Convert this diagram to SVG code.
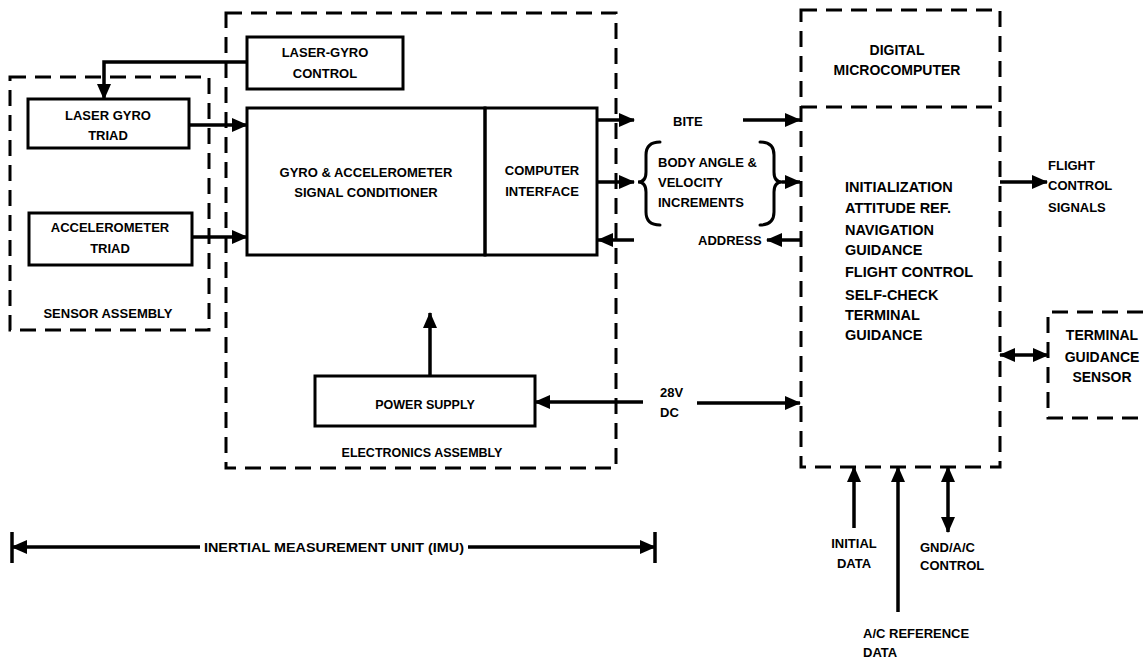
<svg xmlns="http://www.w3.org/2000/svg" width="1147" height="659" viewBox="0 0 1147 659">
  <style>
    .box { fill: none; stroke: #000; stroke-width: 3; }
    .dash { fill: none; stroke: #000; stroke-width: 3; stroke-dasharray: 16 9; }
    .wire { fill: none; stroke: #000; stroke-width: 3.5; }
    .brace { fill: none; stroke: #000; stroke-width: 3; stroke-linecap: round; }
    text { font-family: "Liberation Sans", Arial, sans-serif; font-weight: bold; font-size: 13px; fill: #000; }
    .c { text-anchor: middle; }
    .big { font-size: 14px; }
    .fn { font-size: 14.5px; }
  </style>
  <defs>
    <marker id="arrow" markerUnits="userSpaceOnUse" markerWidth="16" markerHeight="14" refX="15" refY="7" orient="auto-start-reverse">
      <path d="M0,0 L16,7 L0,14 Z" fill="#000"/>
    </marker>
  </defs>

  <rect width="1147" height="659" fill="#fff"/>

  <!-- Sensor assembly -->
  <g id="sensor-assembly">
    <rect class="dash" x="10" y="77" width="199" height="253"/>
    <text class="c" x="108" y="318">SENSOR ASSEMBLY</text>
  </g>
  <g id="laser-gyro-triad">
    <rect class="box" x="28" y="99" width="161" height="49"/>
    <text class="c" x="108" y="120">LASER GYRO</text>
    <text class="c" x="108" y="140">TRIAD</text>
  </g>
  <g id="accelerometer-triad">
    <rect class="box" x="29" y="213" width="163" height="52"/>
    <text class="c" x="110" y="232">ACCELEROMETER</text>
    <text class="c" x="110" y="253">TRIAD</text>
  </g>

  <!-- Electronics assembly -->
  <g id="electronics-assembly">
    <rect class="dash" x="226" y="13" width="390" height="455"/>
    <text class="c" x="422" y="457" style="font-size:12.5px">ELECTRONICS ASSEMBLY</text>
  </g>
  <g id="laser-gyro-control">
    <rect class="box" x="247" y="37" width="156" height="52"/>
    <text class="c" x="325" y="57">LASER-GYRO</text>
    <text class="c" x="325" y="78">CONTROL</text>
  </g>
  <g id="signal-conditioner">
    <rect class="box" x="247" y="108" width="238" height="147"/>
    <text class="c" x="366" y="177">GYRO &amp; ACCELEROMETER</text>
    <text class="c" x="366" y="197">SIGNAL CONDITIONER</text>
  </g>
  <g id="computer-interface">
    <rect class="box" x="485" y="108" width="112" height="147"/>
    <text class="c" x="542" y="175">COMPUTER</text>
    <text class="c" x="542" y="196">INTERFACE</text>
  </g>
  <g id="power-supply">
    <rect class="box" x="315" y="376" width="220" height="50"/>
    <text class="c" x="425" y="409" style="font-size:12.5px">POWER SUPPLY</text>
  </g>

  <!-- Digital microcomputer -->
  <g id="digital-microcomputer">
    <rect class="dash" x="801" y="10" width="199" height="457"/>
    <line class="dash" x1="801" y1="107" x2="1000" y2="107"/>
    <text class="c big" x="897" y="55">DIGITAL</text>
    <text class="c big" x="897" y="75">MICROCOMPUTER</text>
    <text class="fn" x="845" y="192">INITIALIZATION</text>
    <text class="fn" x="845" y="213">ATTITUDE REF.</text>
    <text class="fn" x="845" y="235">NAVIGATION</text>
    <text class="fn" x="845" y="255">GUIDANCE</text>
    <text class="fn" x="845" y="277">FLIGHT CONTROL</text>
    <text class="fn" x="845" y="300">SELF-CHECK</text>
    <text class="fn" x="845" y="320">TERMINAL</text>
    <text class="fn" x="845" y="340">GUIDANCE</text>
  </g>

  <!-- Terminal guidance sensor -->
  <g id="terminal-guidance-sensor">
    <path class="dash" d="M1143,312 H1048 V418 H1143"/>
    <text class="c big" x="1102" y="340">TERMINAL</text>
    <text class="c big" x="1102" y="362">GUIDANCE</text>
    <text class="c big" x="1102" y="382">SENSOR</text>
  </g>

  <!-- Signal labels -->
  <g id="labels">
    <text x="673" y="126">BITE</text>
    <text x="658" y="167">BODY ANGLE &amp;</text>
    <text x="658" y="187">VELOCITY</text>
    <text x="658" y="207">INCREMENTS</text>
    <text x="698" y="245">ADDRESS</text>
    <text x="1048" y="170">FLIGHT</text>
    <text x="1048" y="190">CONTROL</text>
    <text x="1048" y="212">SIGNALS</text>
    <text x="660" y="397">28V</text>
    <text x="660" y="417">DC</text>
    <text class="c" x="854" y="548">INITIAL</text>
    <text class="c" x="854" y="568">DATA</text>
    <text x="920" y="552">GND/A/C</text>
    <text x="920" y="570">CONTROL</text>
    <text x="863" y="638">A/C REFERENCE</text>
    <text x="863" y="657">DATA</text>
    <text x="204" y="552" textLength="260" lengthAdjust="spacingAndGlyphs" style="font-size:13px">INERTIAL MEASUREMENT UNIT (IMU)</text>
  </g>

  <!-- Connectors -->
  <g id="connectors">
    <path class="wire" d="M247,62 H104 V99" marker-end="url(#arrow)"/>
    <path class="wire" d="M189,125 H247" marker-end="url(#arrow)"/>
    <path class="wire" d="M192,237 H247" marker-end="url(#arrow)"/>
    <path class="wire" d="M597,120 H634" marker-end="url(#arrow)"/>
    <path class="wire" d="M597,182 H634" marker-end="url(#arrow)"/>
    <path class="wire" d="M634,240 H598" marker-end="url(#arrow)"/>
    <path class="wire" d="M743,120 H800" marker-end="url(#arrow)"/>
    <path class="wire" d="M782,182 H800" marker-end="url(#arrow)"/>
    <path class="wire" d="M800,240 H767" marker-end="url(#arrow)"/>
    <path class="wire" d="M1000,182 H1047" marker-end="url(#arrow)"/>
    <path class="wire" d="M1000,355 H1048" marker-start="url(#arrow)" marker-end="url(#arrow)"/>
    <path class="wire" d="M643,402 H535" marker-end="url(#arrow)"/>
    <path class="wire" d="M430,376 V313" marker-end="url(#arrow)"/>
    <path class="wire" d="M697,403 H800" marker-end="url(#arrow)"/>
    <path class="wire" d="M854,528 V467" marker-end="url(#arrow)"/>
    <path class="wire" d="M898,612 V467" marker-end="url(#arrow)"/>
    <path class="wire" d="M948,532 V467" marker-start="url(#arrow)" marker-end="url(#arrow)"/>
    <!-- IMU extent -->
    <path class="wire" d="M200,547 H12" marker-end="url(#arrow)"/>
    <path class="wire" d="M468,547 H655" marker-end="url(#arrow)"/>
    <line class="wire" x1="12" y1="532" x2="12" y2="563"/>
    <line class="wire" x1="655" y1="532" x2="655" y2="563"/>
    <!-- braces around the increment signals -->
    <path class="brace" d="M660,142 Q646,142 646,155 V172 Q646,182 638,182 Q646,182 646,192 V212 Q646,225 660,225"/>
    <path class="brace" d="M760,142 Q774,142 774,155 V172 Q774,182 782,182 Q774,182 774,192 V212 Q774,225 760,225"/>
  </g>
</svg>
